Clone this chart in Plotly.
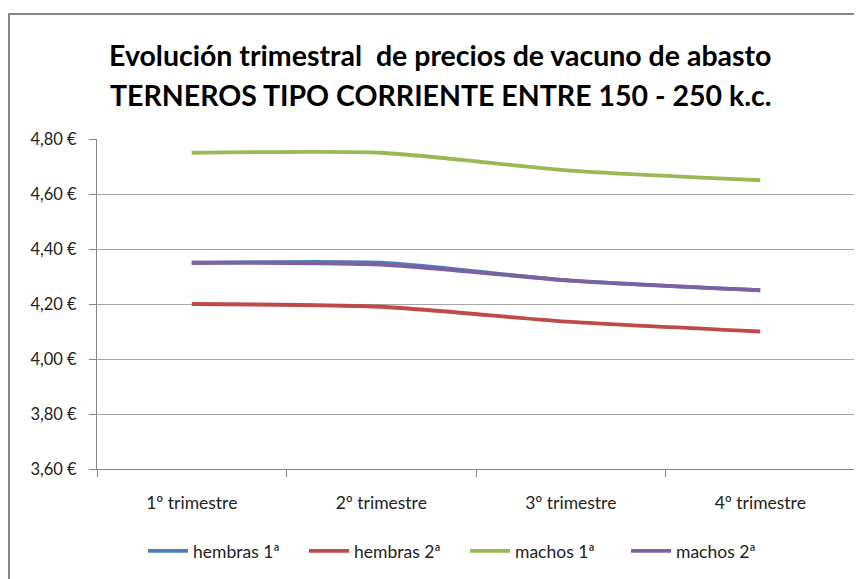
import plotly.graph_objects as go

categories = ["1º trimestre", "2º trimestre", "3º trimestre", "4º trimestre"]
hembras_1 = [4.35, 4.35, 4.285, 4.25]
hembras_2 = [4.20, 4.19, 4.135, 4.10]
machos_1 = [4.75, 4.75, 4.685, 4.65]
machos_2 = [4.35, 4.343, 4.285, 4.25]
series_names = ["hembras 1ª", "hembras 2ª", "machos 1ª", "machos 2ª"]
series_colors = ["#4a7ebb", "#be4b48", "#98b954", "#7d60a0"]
ytick_vals = [3.6, 3.8, 4.0, 4.2, 4.4, 4.6, 4.8]
ytick_text = ["3,60 €", "3,80 €", "4,00 €", "4,20 €", "4,40 €", "4,60 €", "4,80 €"]
title_lines = ["Evolución trimestral  de precios de vacuno de abasto",
               "TERNEROS TIPO CORRIENTE ENTRE 150 - 250 k.c."]

FONT = "Lato, Carlito, Calibri, sans-serif"
OFF = 8  # page body margin

fig = go.Figure()
for name, vals, col in zip(series_names, [hembras_1, hembras_2, machos_1, machos_2], series_colors):
    fig.add_trace(go.Scatter(
        x=categories, y=vals, name=name, mode="lines",
        line=dict(color=col, width=3.8, shape="spline", smoothing=0.6),
    ))

W, H = 862 - OFF, 579 - OFF
L = 97 - OFF
T = 139 - OFF
R = W - (855 - OFF)
B = H - (469 - OFF)
pw, ph = W - L - R, H - T - B


def px(x):
    return (x - OFF - L) / pw


def py(y):
    return (H - B - (y - OFF)) / ph


fig.update_layout(
    width=W, height=H,
    margin=dict(l=L, r=R, t=T, b=B),
    paper_bgcolor="white", plot_bgcolor="white",
    font=dict(family=FONT, size=17, color="#222222"),
    showlegend=True,
    legend=dict(orientation="h", x=px(465), xanchor="center", y=py(551), yanchor="middle",
                font=dict(size=17.5, color="#222222"), itemwidth=40, tracegroupgap=0,
                entrywidth=106, entrywidthmode="pixels"),
    annotations=[
        dict(text="<b>" + title_lines[0] + "</b>", xref="paper", yref="paper",
             x=px(440), y=py(55), xanchor="center", yanchor="middle",
             showarrow=False, font=dict(size=28.5, color="black", family=FONT)),
        dict(text="<b>" + title_lines[1] + "</b>", xref="paper", yref="paper",
             x=px(441), y=py(95), xanchor="center", yanchor="middle",
             showarrow=False, font=dict(size=28.5, color="black", family=FONT)),
    ],
    shapes=[
        dict(type="rect", xref="paper", yref="paper",
             x0=px(9), x1=px(880),
             y0=py(600), y1=py(14),
             line=dict(color="#868686", width=2), fillcolor="rgba(0,0,0,0)", layer="below"),
    ],
)

fig.update_xaxes(
    type="category", range=[-0.5, 3.5],
    showline=True, linecolor="#868686", linewidth=1,
    ticks="outside", tickson="boundaries", ticklen=7, tickcolor="#868686",
    showgrid=False, tickfont=dict(size=17.5, color="#222222"),
    ticklabelstandoff=18,
)
fig.update_yaxes(
    range=[3.6, 4.8], tickvals=ytick_vals, ticktext=ytick_text,
    showline=True, linecolor="#868686", linewidth=1,
    ticks="outside", ticklen=7, tickcolor="#868686",
    showgrid=True, gridcolor="#a6a6a6", gridwidth=1, zeroline=False,
    tickfont=dict(size=16.5, color="#222222"), ticklabelstandoff=9,
)

fig.write_html("out.html")
